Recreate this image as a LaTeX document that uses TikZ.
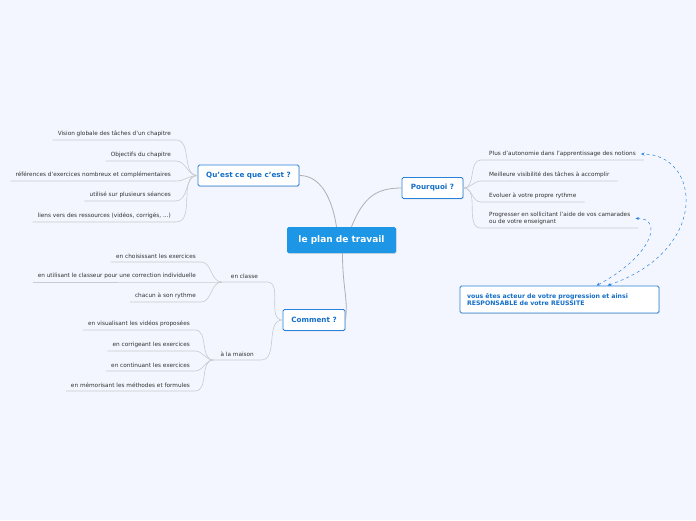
\documentclass[tikz,border=0pt]{standalone}
\usepackage{fontspec}
\setmainfont{DejaVu Sans}
\usetikzlibrary{arrows.meta,shadows}

\definecolor{bgblue}{RGB}{243,246,254}
\definecolor{rootblue}{RGB}{30,150,230}
\definecolor{topicblue}{RGB}{40,130,220}
\definecolor{textblue}{RGB}{20,110,200}
\definecolor{leafgray}{RGB}{50,50,50}
\definecolor{linegray}{RGB}{175,175,180}
\definecolor{twiggray}{RGB}{200,202,208}

\begin{document}
\begin{tikzpicture}[
    x=1pt, y=-1pt,
    every node/.style={font=\fontsize{5.75}{7}\selectfont, text=leafgray},
    root/.style={fill=rootblue, rounded corners=1.5pt, minimum width=109pt,
                 minimum height=26pt, text=white,
                 drop shadow={shadow xshift=0.6pt, shadow yshift=-0.8pt, opacity=0.25},
                 font=\fontsize{9}{11}\selectfont\bfseries},
    topic/.style={draw=topicblue, line width=0.9pt, fill=white,
                  rounded corners=1.5pt, minimum height=21pt, text=textblue,
                  drop shadow={shadow xshift=0.6pt, shadow yshift=-0.8pt, opacity=0.25},
                  font=\fontsize{7.2}{8.6}\selectfont\bfseries},
    leaf/.style={inner xsep=5pt, inner ysep=3pt, align=left},
    branch/.style={draw=linegray, line width=0.8pt},
    twig/.style={draw=twiggray, line width=0.6pt},
    relation/.style={draw=topicblue, dashed, line width=0.5pt,
                     {Stealth[length=3.5pt,width=3pt]}-{Stealth[length=3.5pt,width=3pt]}}
  ]
  \fill[bgblue] (0,0) rectangle (696,520);
  \useasboundingbox (0,0) rectangle (696,520);

  % topics
  \node[root] (root) at (341.5,240) {le plan de travail};
  \node[topic, minimum width=101pt] (qu) at (248.5,175.5) {Qu'est ce que c'est ?};
  \node[topic, minimum width=61pt] (po) at (432.5,188) {Pourquoi ?};
  \node[topic, minimum width=62pt] (co) at (314,320) {Comment ?};
  \node[topic, minimum width=199pt, minimum height=27pt, text width=185pt,
        align=left, font=\fontsize{6.2}{7.6}\selectfont\bfseries] (note) at (559.5,299.5)
    {vous êtes acteur de votre progression et ainsi\\RESPONSABLE de votre REUSSITE};

  \draw[branch] ([xshift=-5pt]root.north) .. controls +(-6,-38) and +(16,0) .. (qu.east);
  \draw[branch] ([xshift=10pt]root.north) .. controls +(12,-30) and +(-25,0) .. (po.west);
  \draw[branch] ([xshift=1pt]root.south) .. controls +(0,35) and +(3,-20) .. (co.east);

  % Qu'est ce que c'est ?
  \node[leaf, anchor=south east] (q1) at (176,140) {Vision globale des tâches d'un chapitre};
  \node[leaf, anchor=south east] (q2) at (176,161) {Objectifs du chapitre};
  \node[leaf, anchor=south east] (q3) at (176,181) {références d'exercices nombreux et complémentaires};
  \node[leaf, anchor=south east] (q4) at (176,201) {utilisé sur plusieurs séances};
  \node[leaf, anchor=south east] (q5) at (176,222) {liens vers des ressources (vidéos, corrigés, ...)};
  \draw[twig] (q1.south west) -- (q1.south east) to[out=0, in=180] (qu.west);
  \draw[twig] (q2.south west) -- (q2.south east) to[out=0, in=180] (qu.west);
  \draw[twig] (q3.south west) -- (q3.south east) to[out=0, in=180] (qu.west);
  \draw[twig] (q4.south west) -- (q4.south east) to[out=0, in=180] (qu.west);
  \draw[twig] (q5.south west) -- (q5.south east) to[out=0, in=180] (qu.west);

  % Pourquoi ?
  \node[leaf, anchor=south west, inner xsep=8pt] (p1) at (481,160) {Plus d'autonomie dans l'apprentissage des notions};
  \node[leaf, anchor=south west, inner xsep=8pt] (p2) at (481,181) {Meilleure visibilité des tâches à accomplir};
  \node[leaf, anchor=south west, inner xsep=8pt] (p3) at (481,202) {Evoluer à votre propre rythme};
  \node[leaf, anchor=south west, inner xsep=8pt] (p4) at (481,228) {Progresser en sollicitant l'aide de vos camarades\\ou de votre enseignant};
  \draw[twig] (po.east) to[out=0, in=180] (p1.south west) -- (p1.south east);
  \draw[twig] (po.east) to[out=0, in=180] (p2.south west) -- (p2.south east);
  \draw[twig] (po.east) to[out=0, in=180] (p3.south west) -- (p3.south east);
  \draw[twig] (po.east) to[out=0, in=180] (p4.south west) -- (p4.south east);

  % Comment ?
  \node[leaf, anchor=south east, inner xsep=9pt] (cl) at (267,282) {en classe};
  \node[leaf, anchor=south east, inner xsep=7pt] (ma) at (261,360) {à la maison};
  \draw[twig] (cl.south west) -- (cl.south east) to[out=0, in=180] (co.west);
  \draw[twig] (ma.south west) -- (ma.south east) to[out=0, in=180] (co.west);

  \node[leaf, anchor=south east] (cl1) at (201,262) {en choisissant les exercices};
  \node[leaf, anchor=south east] (cl2) at (201,282) {en utilisant le classeur pour une correction individuelle};
  \node[leaf, anchor=south east] (cl3) at (201,302) {chacun à son rythme};
  \draw[twig] (cl1.south west) -- (cl1.south east) to[out=0, in=180] (cl.south west);
  \draw[twig] (cl2.south west) -- (cl2.south east) to[out=0, in=180] (cl.south west);
  \draw[twig] (cl3.south west) -- (cl3.south east) to[out=0, in=180] (cl.south west);

  \node[leaf, anchor=south east] (ma1) at (195,330) {en visualisant les vidéos proposées};
  \node[leaf, anchor=south east] (ma2) at (195,351) {en corrigeant les exercices};
  \node[leaf, anchor=south east] (ma3) at (195,371) {en continuant les exercices};
  \node[leaf, anchor=south east] (ma4) at (195,391) {en mémorisant les méthodes et formules};
  \draw[twig] (ma1.south west) -- (ma1.south east) to[out=0, in=180] (ma.south west);
  \draw[twig] (ma2.south west) -- (ma2.south east) to[out=0, in=180] (ma.south west);
  \draw[twig] (ma3.south west) -- (ma3.south east) to[out=0, in=180] (ma.south west);
  \draw[twig] (ma4.south west) -- (ma4.south east) to[out=0, in=180] (ma.south west);

  % relations
  \draw[relation] ([xshift=37pt]note.north) .. controls +(58,-31) and +(27,-1) .. ([xshift=-3pt]p4.east);
  \draw[relation] ([xshift=48pt]note.north) .. controls +(104,-36) and +(59,0) .. ([xshift=-3pt]p1.east);
\end{tikzpicture}
\end{document}
